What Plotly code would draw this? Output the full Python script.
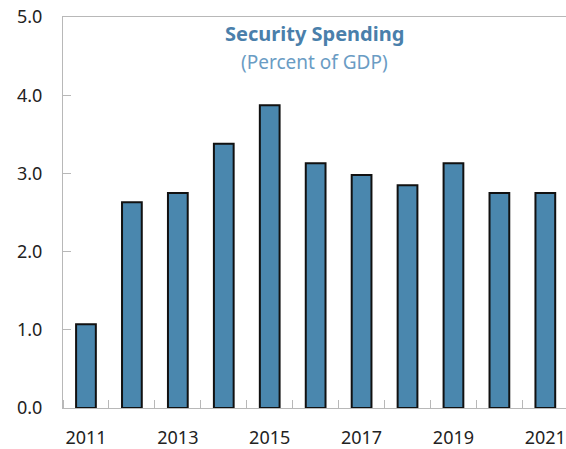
import plotly.graph_objects as go

# Security spending, percent of GDP
years = [2011, 2012, 2013, 2014, 2015, 2016, 2017, 2018, 2019, 2020, 2021]
spending = [1.07, 2.63, 2.75, 3.38, 3.87, 3.13, 2.98, 2.85, 3.13, 2.75, 2.75]
label_years = [2011, 2013, 2015, 2017, 2019, 2021]
y_ticks = [0, 1, 2, 3, 4, 5]

FONT = "Noto Sans"
AXIS_GRAY = "#b8b8b8"

fig = go.Figure(
    go.Bar(
        x=years,
        y=spending,
        marker=dict(color="#4a87ae", line=dict(color="#111111", width=2)),
        width=0.43,
    )
)

fig.update_layout(
    width=566,
    height=449,
    margin=dict(l=63, r=0, t=17, b=41),
    paper_bgcolor="white",
    plot_bgcolor="white",
    showlegend=False,
    font=dict(family=FONT, color="#222222", size=18),
)

fig.update_xaxes(
    range=[years[0] - 0.5, years[-1] + 0.45],
    tickvals=label_years,
    ticktext=[str(y) for y in label_years],
    ticks="",
    showgrid=False,
    zeroline=False,
    showline=True,
    linecolor=AXIS_GRAY,
    linewidth=1,
    mirror=True,
    ticklabelstandoff=13,
    minor=dict(tick0=years[0] - 0.5, dtick=1, ticks="inside", ticklen=8,
               tickcolor=AXIS_GRAY, tickwidth=1, showgrid=False),
)

fig.update_yaxes(
    range=[0, 5],
    tickvals=y_ticks,
    tickformat=".1f",
    ticks="inside",
    ticklen=8,
    tickcolor=AXIS_GRAY,
    showgrid=False,
    zeroline=False,
    showline=True,
    linecolor=AXIS_GRAY,
    linewidth=1,
    mirror=False,
    ticklabelstandoff=16,
)

fig.add_annotation(
    x=0.5, y=0.959, xref="paper", yref="paper", xanchor="center", yanchor="middle",
    text="<b>Security Spending</b>", showarrow=False,
    font=dict(family=FONT, size=20, color="#4a7fab"),
)
fig.add_annotation(
    x=0.5, y=0.885, xref="paper", yref="paper", xanchor="center", yanchor="middle",
    text="(Percent of GDP)", showarrow=False,
    font=dict(family=FONT, size=19, color="#6a9cc4"),
)

fig.write_html("out.html")
